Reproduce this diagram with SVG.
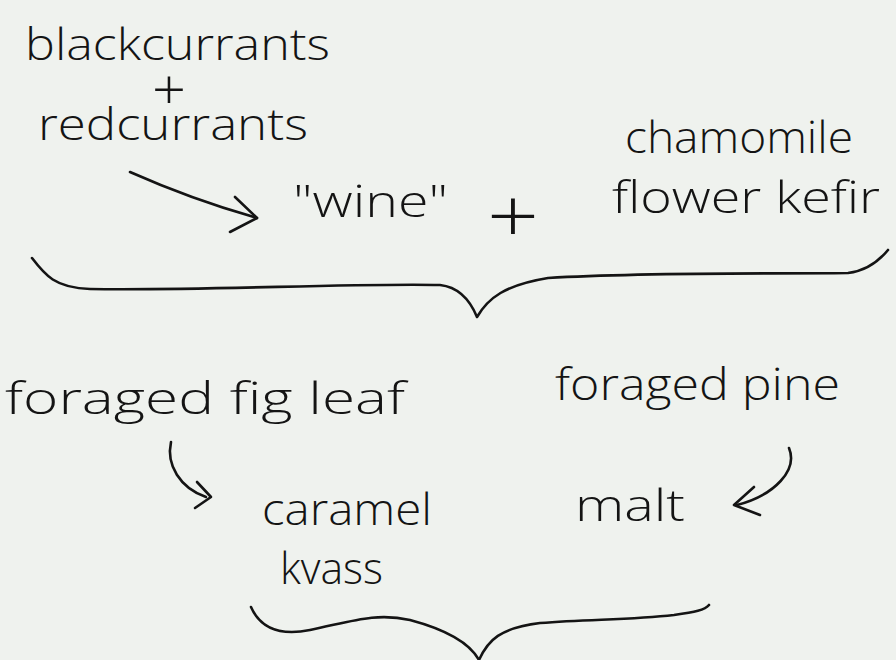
<svg xmlns="http://www.w3.org/2000/svg" width="896" height="660" viewBox="0 0 896 660">
<style>
.t{font-family:"Open Sans","Liberation Sans",sans-serif;font-weight:300;font-size:44px;fill:#141414}
.c{fill:none;stroke:#141414;stroke-width:2.6;stroke-linecap:round;stroke-linejoin:round}
</style>
<rect width="896" height="660" fill="#eff2ee"/>
<g id="blackcurrants"><text class="t" x="25" y="60" textLength="305" lengthAdjust="spacingAndGlyphs">blackcurrants</text></g>
<g id="plus1"><text class="t" x="152" y="105" font-size="58" textLength="34" lengthAdjust="spacingAndGlyphs" transform="matrix(1 0 0 1.3 0 -26.4)">+</text></g>
<g id="redcurrants"><text class="t" x="38" y="140" textLength="270" lengthAdjust="spacingAndGlyphs">redcurrants</text></g>
<g id="wine"><text class="t" x="293" y="217" textLength="155" lengthAdjust="spacingAndGlyphs">"wine"</text></g>
<g id="plus2"><text class="t" x="487" y="230" font-size="88" textLength="52" lengthAdjust="spacingAndGlyphs" transform="matrix(1 0 0 1.7 0 -148.4)">+</text></g>
<g id="kefir"><text class="t" x="625" y="153" textLength="228" lengthAdjust="spacingAndGlyphs">chamomile</text><text class="t" x="612" y="213" textLength="268" lengthAdjust="spacingAndGlyphs">flower kefir</text></g>
<g id="fig"><text class="t" x="5" y="414" textLength="400" lengthAdjust="spacingAndGlyphs">foraged fig leaf</text></g>
<g id="pine"><text class="t" x="555" y="400" textLength="285" lengthAdjust="spacingAndGlyphs">foraged pine</text></g>
<g id="kvass"><text class="t" x="262" y="525" textLength="170" lengthAdjust="spacingAndGlyphs">caramel</text><text class="t" x="280" y="584" textLength="103" lengthAdjust="spacingAndGlyphs">kvass</text></g>
<g id="malt"><text class="t" x="575" y="521" textLength="110" lengthAdjust="spacingAndGlyphs">malt</text></g>
<g id="connectors">
<path class="c" d="M130,172 C175,192 215,206 257,218"/>
<path class="c" d="M235,197 L257,218 L230,232"/>
<path class="c" d="M171,442 C166,465 180,488 206,497"/>
<path class="c" d="M197,482 L211,497 L195,508"/>
<path class="c" d="M789,448 C798,470 775,495 737,505"/>
<path class="c" d="M754,487 L734,505 L760,515"/>
<path class="c" d="M32,258 C45,275 55,288 90,289 C200,291 350,283 440,285 C458,287 470,300 477,317 C488,298 505,285 548,278 C650,272 760,274 848,273 C866,271 878,262 888,250"/>
<path class="c" d="M251,607 C262,632 285,635 310,630 C350,622 375,612 410,620 C440,628 468,640 479,660 C488,640 500,628 540,623 C590,619 630,620 674,615 C695,612 705,610 709,605"/>
</g>
</svg>
